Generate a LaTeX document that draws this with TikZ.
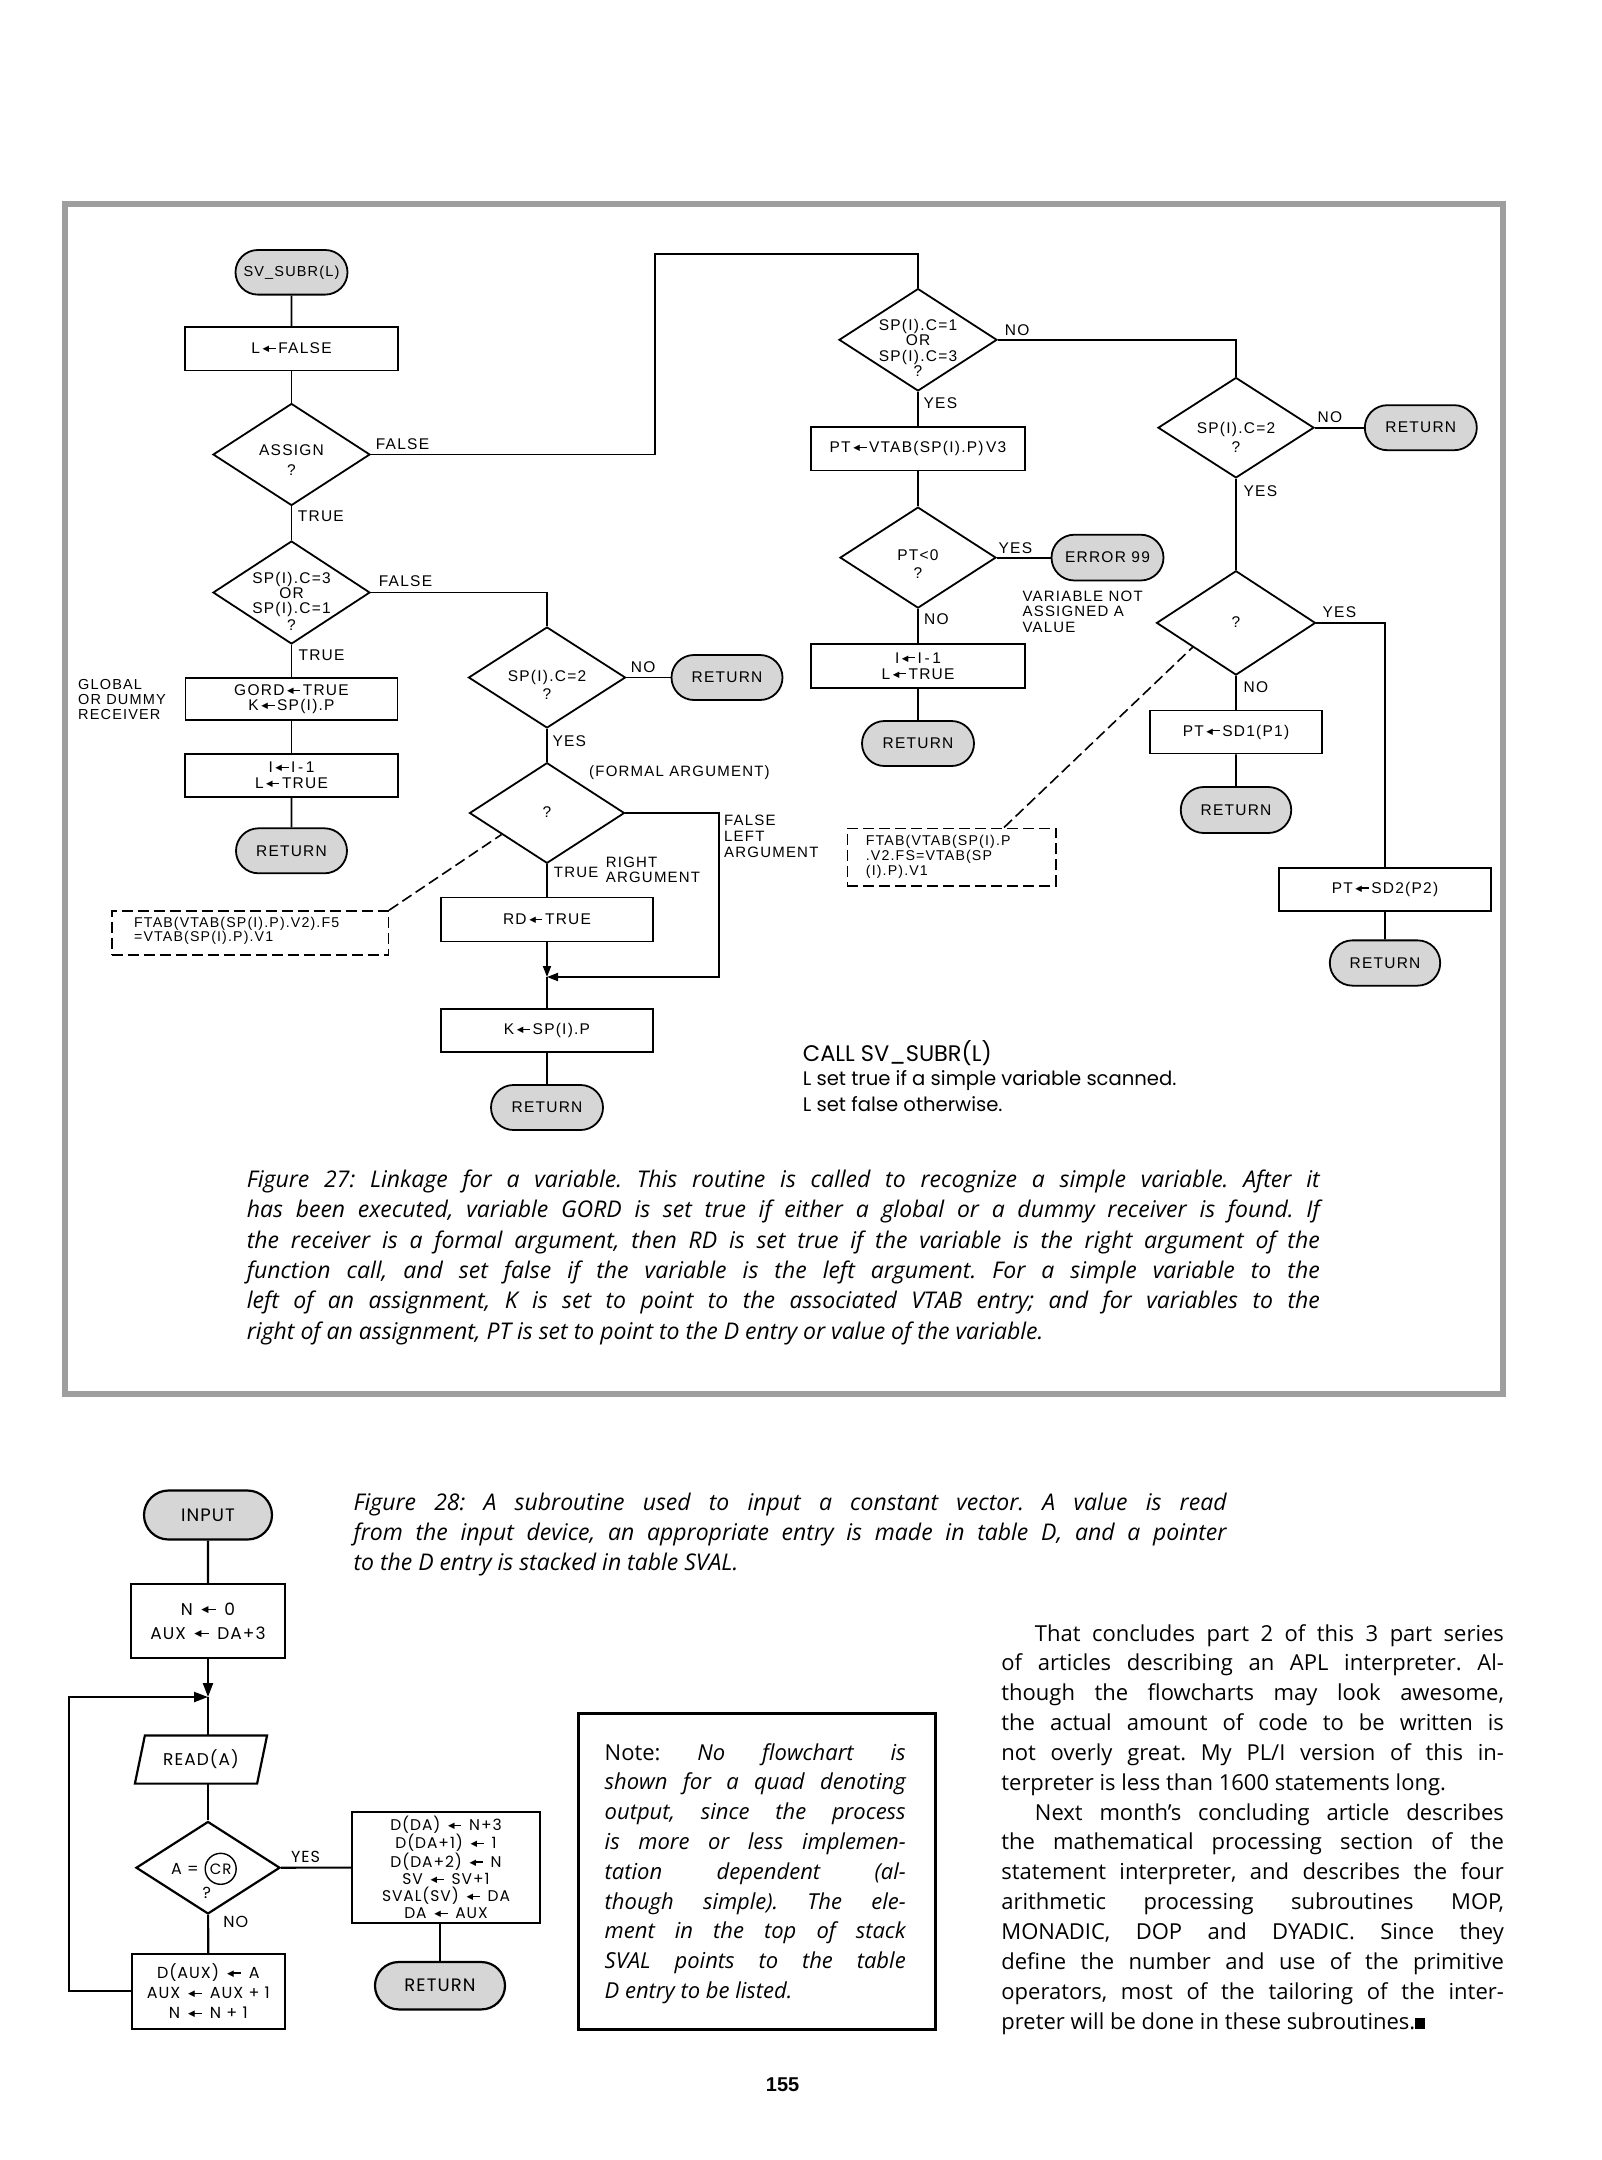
\documentclass[tikz,border=0pt]{standalone}
\usepackage{fontspec}
\usepackage{graphicx}
\setmainfont{Open Sans}
\newfontfamily\chartfont[LetterSpace=8]{Liberation Sans}
\newfontfamily\geofont[LetterSpace=6]{Poppins}
\newfontfamily\callfont{Poppins}
\newfontfamily\arrfont{DejaVu Sans}
\newfontfamily\numfont{Liberation Sans}
\usetikzlibrary{shapes.geometric,shapes.misc,arrows.meta,calc}
\definecolor{termgray}{RGB}{214,214,214}
\definecolor{framegray}{RGB}{158,158,158}
\newcommand{\lar}{\mbox{\raisebox{0.13em}{\scalebox{0.55}{\arrfont ◀}}\kern-0.12em\rule[0.3em]{0.55em}{0.085em}}}
\newcommand{\cfs}[2]{\chartfont\fontsize{#1}{#2}\selectfont}
\newcommand{\gfs}[2]{\geofont\fontsize{#1}{#2}\selectfont}
\tikzset{
  pbox/.style={draw, rectangle, inner sep=0pt, align=center},
  termnode/.style={draw, rounded rectangle, fill=termgray, inner sep=0pt, align=center},
  decision/.style={draw, diamond, inner sep=0pt},
  lbl/.style={inner sep=0pt, anchor=west, align=left},
  ctext/.style={inner sep=0pt, align=center},
  dbox/.style={draw, rectangle, inner sep=0pt, dash pattern=on 11pt off 5pt, line width=1.6pt},
  dline/.style={dash pattern=on 11pt off 5pt, line width=1.6pt},
  arr/.style={-{Triangle[length=11pt,width=8pt]}},
  arrb/.style={-{Triangle[length=14pt,width=10pt]}},
  captxt/.style={inner sep=0pt, anchor=base west, font=\itshape\fontsize{23}{30}\selectfont},
  bodytxt/.style={inner sep=0pt, anchor=base west, font=\fontsize{22}{30}\selectfont},
  notetxt/.style={inner sep=0pt, anchor=base west, font=\fontsize{22}{30}\selectfont},
}
\begin{document}
\frenchspacing
\begin{tikzpicture}[x=1pt, y=-1pt, line width=1.8pt]
\useasboundingbox (0,0) rectangle (1601,2160);
\fill[white] (0,0) rectangle (1601,2160);

% ---------------- Figure 27 frame
\node[draw=framegray, line width=6pt, minimum width=1438, minimum height=1190, inner sep=0pt] (frame27) at (784,799) {};

% ---------------- left column
\node[termnode, font=\cfs{14.5}{16}, minimum width=112, minimum height=44.6] (t1) at (291.5,272.3) {SV\_SUBR(L)};
\node[pbox, font=\cfs{15.5}{16}, minimum width=213, minimum height=43.6] (b1) at (291.5,348.6) {L\,\lar\,FALSE};
\node[decision, minimum width=157, minimum height=102] (d1) at (291.5,454.5) {};
\node[ctext, font=\cfs{15.5}{20}] (d1t) at (291.5,460) {ASSIGN\\?};
\node[decision, minimum width=157, minimum height=103] (d2) at (291.5,592.5) {};
\node[ctext, font=\cfs{15.5}{15}] (d2t) at (291.5,601) {SP(I).C=3\\OR\\SP(I).C=1\\[2pt]?};
\node[pbox, font=\cfs{15.5}{15}, minimum width=212, minimum height=42] (b2) at (291.5,699.3) {GORD\,\lar\,TRUE\\K\,\lar\,SP(I).P};
\node[pbox, font=\cfs{15.5}{16}, minimum width=212.6, minimum height=42.7] (b3) at (291.5,775.3) {I\,\lar\,I\,-\,1\\L\,\lar\,TRUE};
\node[termnode, font=\cfs{15.5}{16}, minimum width=111, minimum height=45] (t2) at (291.5,850.8) {RETURN};

\node[lbl, font=\cfs{15.5}{16}] (l1) at (375,444) {FALSE};
\node[lbl, font=\cfs{15.5}{16}] (l2) at (297,516.4) {TRUE};
\node[lbl, font=\cfs{15.5}{16}] (l3) at (378,581.4) {FALSE};
\node[lbl, font=\cfs{15.5}{16}] (l4) at (297.7,655.4) {TRUE};
\node[lbl, font=\cfs{14.5}{14.7}] (l5) at (77.3,699.5) {GLOBAL\\OR DUMMY\\RECEIVER};

\node[dbox, minimum width=276.6, minimum height=44] (dash1) at (250,933) {};
\node[lbl, font=\cfs{14.2}{14}] (dash1t) at (133.3,931.3) {FTAB(VTAB(SP(I).P).V2).F5\\=VTAB(SP(I).P).V1};

% ---------------- middle column
\node[decision, minimum width=157, minimum height=101] (d3) at (547,677.5) {};
\node[ctext, font=\cfs{15.5}{18.5}] (d3t) at (547,685) {SP(I).C=2\\?};
\node[termnode, font=\cfs{15.5}{16}, minimum width=111, minimum height=45] (t3) at (727,677.5) {RETURN};
\node[decision, minimum width=155, minimum height=100.6] (d8) at (547,813) {};
\node[ctext, font=\cfs{15.5}{16}] (d8t) at (547,811.7) {?};
\node[pbox, font=\cfs{15.5}{16}, minimum width=211.6, minimum height=44] (b4) at (547,919.5) {RD\,\lar\,TRUE};
\coordinate (j2) at (547,977);
\coordinate (c2) at (719,977);
\node[pbox, font=\cfs{15.5}{16}, minimum width=212, minimum height=43] (b5) at (547,1030.7) {K\,\lar\,SP(I).P};
\node[termnode, font=\cfs{15.5}{16}, minimum width=112, minimum height=45] (t4) at (547,1107.5) {RETURN};

\node[lbl, font=\cfs{15.5}{16}] (l6) at (630,667.3) {NO};
\node[lbl, font=\cfs{15.5}{16}] (l7) at (551.7,741) {YES};
\node[lbl, font=\cfs{15}{16}] (l8) at (588.3,772.7) {(FORMAL ARGUMENT)};
\node[lbl, font=\cfs{15}{16}] (l9) at (723.3,836) {FALSE\\LEFT\\ARGUMENT};
\node[lbl, font=\cfs{15}{16}] (l10) at (553,872.7) {TRUE};
\node[lbl, font=\cfs{15}{14.6}] (l11) at (605,870) {RIGHT\\ARGUMENT};

% ---------------- right-middle column
\node[decision, minimum width=158, minimum height=102.4] (d4) at (918,339.8) {};
\node[ctext, font=\cfs{15.5}{15.5}] (d4t) at (918,348) {SP(I).C=1\\OR\\SP(I).C=3\\?};
\node[pbox, font=\cfs{15.5}{16}, minimum width=214, minimum height=43.6] (b6) at (918,448.6) {PT\,\lar\,VTAB(SP(I).P)\,V3};
\node[decision, minimum width=156, minimum height=101] (d5) at (918,557.6) {};
\node[ctext, font=\cfs{15.5}{18}] (d5t) at (918,564) {PT<0\\?};
\node[termnode, font=\cfs{15.5}{16}, minimum width=112, minimum height=45.8] (t5) at (1107.5,557.6) {ERROR 99};
\node[pbox, font=\cfs{15.5}{16}, minimum width=214, minimum height=43.7] (b7) at (918,665.8) {I\,\lar\,I\,-\,1\\L\,\lar\,TRUE};
\node[termnode, font=\cfs{15.5}{16}, minimum width=112, minimum height=45] (t6) at (918,743.5) {RETURN};

\node[lbl, font=\cfs{15.5}{16}] (l12) at (1004,330.4) {NO};
\node[lbl, font=\cfs{15.5}{16}] (l13) at (922.7,403.6) {YES};
\node[lbl, font=\cfs{15.5}{16}] (l14) at (997.7,548.2) {YES};
\node[lbl, font=\cfs{15.5}{16}] (l15) at (923.3,619) {NO};
\node[lbl, font=\cfs{15}{15.2}] (l16) at (1021.7,611.8) {VARIABLE NOT\\ASSIGNED A\\VALUE};

\node[dbox, minimum width=208.4, minimum height=57.4] (dash2) at (951.5,857) {};
\node[lbl, font=\cfs{14.2}{15}] (dash2t) at (865,856.7) {FTAB(VTAB(SP(I).P\\.V2.FS=VTAB(SP\\(I).P).V1};

% ---------------- right column
\node[decision, minimum width=156, minimum height=100.4] (d6) at (1236,427.7) {};
\node[ctext, font=\cfs{15.5}{19}] (d6t) at (1236,437) {SP(I).C=2\\?};
\node[termnode, font=\cfs{15.5}{16}, minimum width=112, minimum height=45] (t7) at (1420.8,427.7) {RETURN};
\node[decision, minimum width=159, minimum height=104.3] (d7) at (1236,622.9) {};
\node[ctext, font=\cfs{15.5}{16}] (d7t) at (1236,622.5) {?};
\node[pbox, font=\cfs{15.5}{16}, minimum width=172, minimum height=43] (b8) at (1236,732) {PT\,\lar\,SD1(P1)};
\node[termnode, font=\cfs{15.5}{16}, minimum width=110.5, minimum height=46] (t8) at (1236,810) {RETURN};
\node[pbox, font=\cfs{15.5}{16}, minimum width=212, minimum height=42.8] (b9) at (1385,889.3) {PT\,\lar\,SD2(P2)};
\node[termnode, font=\cfs{15.5}{16}, minimum width=110.4, minimum height=45.3] (t9) at (1385,963) {RETURN};

\node[lbl, font=\cfs{15.5}{16}] (l17) at (1316.7,416.8) {NO};
\node[lbl, font=\cfs{15.5}{16}] (l18) at (1242.7,491) {YES};
\node[lbl, font=\cfs{15.5}{16}] (l19) at (1321.7,611.8) {YES};
\node[lbl, font=\cfs{15.5}{16}] (l20) at (1242.7,687.5) {NO};

\node[lbl, font=\callfont\fontsize{22.5}{26}\selectfont] (call1) at (802,1053.5) {CALL SV\_SUBR(L)};
\node[lbl, font=\callfont\fontsize{19.6}{22}\selectfont] (call2) at (802,1080.5) {L set true if a simple variable scanned.};
\node[lbl, font=\callfont\fontsize{19.6}{22}\selectfont] (call3) at (802,1104.5) {L set false otherwise.};

% ---------------- connectors figure 27
\coordinate (c1) at (655,253.6);
\draw (t1) -- (b1);
\draw (b1) -- (d1);
\draw (d1) -- (d2);
\draw (d2) -- (b2);
\draw (b2) -- (b3);
\draw (b3) -- (t2);
\draw (d1.east) -| (c1) -| (d4.north);
\draw (d2.east) -| (d3.north);
\draw (d3) -- (t3);
\draw (d3) -- (d8);
\draw (d8) -- (b4);
\draw[arr] (b4) -- (j2);
\draw[arr] (d8.east) -| (c2) -- (j2);
\draw (j2) -- (b5);
\draw (b5) -- (t4);
\draw[dline] (dash1.north east) -- ($(d8.west)!0.42!(d8.south)$);
\draw (d4) -- (b6);
\draw (b6) -- (d5);
\draw (d5) -- (t5);
\draw (d5) -- (b7);
\draw (b7) -- (t6);
\draw (d4.east) -| (d6.north);
\draw (d6) -- (t7);
\draw (d6) -- (d7);
\draw (d7.east) -| (b9.north);
\draw (d7) -- (b8);
\draw (b8) -- (t8);
\draw (b9) -- (t9);
\draw[dline] ($(dash2.north west)!0.75!(dash2.north east)$) -- ($(d7.west)!0.46!(d7.south)$);

% ---------------- caption 27
\foreach \t [count=\i from 0] in {
 {Figure 27: Linkage for a variable. This routine is called to recognize a simple variable. After it},
 {has been executed, variable GORD is set true if either a global or a dummy receiver is found. If},
 {the receiver is a formal argument, then RD is set true if the variable is the right argument of the},
 {function call, and set false if the variable is the left argument. For a simple variable to the},
 {left of an assignment, K is set to point to the associated VTAB entry; and for variables to the}}
 {\node[captxt] (capA\i) at (246,{1187.5+\i*30.3}) {\makebox[1073pt][s]{\t}};}
\node[captxt] (capA5) at (246,1339) {right of an assignment, PT is set to point to the D entry or value of the variable.};

% ---------------- Figure 28
\begin{scope}[line width=2.2pt]
\node[termnode, font=\gfs{18}{20}, minimum width=128, minimum height=49] (t10) at (208,1515) {INPUT};
\node[pbox, font=\gfs{17}{24}, minimum width=154, minimum height=74] (b10) at (208,1621) {N\enspace\lar\enspace 0\\AUX\enspace\lar\enspace DA+3};
\coordinate (j1) at (208,1697);
\coordinate (lp) at (69.3,1697);
\node[inner sep=0pt, minimum width=120, minimum height=46, font=\gfs{17}{20}] (p1) at (201,1759.5) {READ(A)};
\draw ([xshift=-5pt]p1.south west) -- ([xshift=5pt]p1.north west) -- ([xshift=5pt]p1.north east) -- ([xshift=-5pt]p1.south east) -- cycle;
\node[decision, minimum width=144, minimum height=92.5] (d10) at (208,1867.7) {};
\node[inner sep=0pt, font=\gfs{16}{18}] (d10a) at (185,1868.8) {A =};
\node[draw, circle, inner sep=0pt, minimum size=31, line width=1.4pt, font=\gfs{15}{18}] (cr) at (220.7,1868.8) {CR};
\node[inner sep=0pt, font=\gfs{16}{18}] (d10q) at (206.7,1893) {?};
\node[lbl, font=\gfs{16}{18}] (l21) at (290,1857) {YES};
\node[lbl, font=\gfs{16}{18}] (l22) at (222.3,1922) {NO};
\node[pbox, font=\gfs{16}{20.2}, minimum width=153, minimum height=74.6] (b11) at (208.3,1991.3) {D(AUX)\enspace\lar\enspace A\\AUX\enspace\lar\enspace AUX + 1\\N\enspace\lar\enspace N + 1};
\node[pbox, font=\gfs{15.5}{17.2}, minimum width=188, minimum height=111] (b12) at (446,1867.5) {D(DA)\enspace\lar\enspace N+3\\D(DA+1)\enspace\lar\enspace 1\\D(DA+2)\enspace\lar\enspace N\\SV\enspace\lar\enspace SV+1\\SVAL(SV)\enspace\lar\enspace DA\\DA\enspace\lar\enspace AUX};
\node[termnode, font=\gfs{18}{20}, minimum width=130, minimum height=47.4] (t11) at (440,1985.7) {RETURN};

\draw (t10) -- (b10);
\draw[arrb] (b10) -- (j1);
\draw[arrb] (b11.west) -| (lp) -- (j1);
\draw (j1) -- (j1 |- p1.north);
\draw (d10.north |- p1.south) -- (d10.north);
\draw (d10) -- (b11);
\draw (d10) -- (b12);
\draw (t11.north |- b12.south) -- (t11.north);
\end{scope}

% ---------------- caption 28
\node[captxt] (capB0) at (352.7,1510) {\makebox[873pt][s]{Figure 28: A subroutine used to input a constant vector. A value is read}};
\node[captxt] (capB1) at (352.7,1540.5) {\makebox[873pt][s]{from the input device, an appropriate entry is made in table D, and a pointer}};
\node[captxt] (capB2) at (352.7,1570.5) {to the D entry is stacked in table SVAL.};

% ---------------- note box
\node[draw, line width=2.4pt, minimum width=357, minimum height=316, inner sep=0pt] (notebox) at (756.9,1871.3) {};
\node[notetxt] (note0) at (603.8,1760) {\makebox[301pt][s]{Note: \itshape No flowchart is}};
\foreach \t [count=\i from 1] in {
 {shown for a quad denoting},
 {output, since the process},
 {is more or less implemen-},
 {tation dependent (al-},
 {though simple). The ele-},
 {ment in the top of stack},
 {SVAL points to the table}}
 {\node[notetxt] (note\i) at (603.8,{1760+\i*29.8}) {\itshape\makebox[301pt][s]{\t}};}
\node[notetxt] (note8) at (603.8,1998.4) {\itshape D entry to be listed.};

% ---------------- body text
\node[bodytxt] (body0) at (1034,1641) {\makebox[469pt][s]{That concludes part 2 of this 3 part series}};
\foreach \t [count=\i from 1] in {
 {of articles describing an APL interpreter. Al-},
 {though the flowcharts may look awesome,},
 {the actual amount of code to be written is},
 {not overly great. My PL/I version of this in-}}
 {\node[bodytxt] (body\i) at (1000.5,{1641+\i*29.85}) {\makebox[502.5pt][s]{\t}};}
\node[bodytxt] (body5) at (1000.5,1790.25) {terpreter is less than 1600 statements long.};
\node[bodytxt] (body6) at (1034,1820.1) {\makebox[469pt][s]{Next month’s concluding article describes}};
\foreach \t [count=\i from 7] in {
 {the mathematical processing section of the},
 {statement interpreter, and describes the four},
 {arithmetic processing subroutines MOP,},
 {MONADIC, DOP and DYADIC. Since they},
 {define the number and use of the primitive},
 {operators, most of the tailoring of the inter-}}
 {\node[bodytxt] (body\i) at (1000.5,{1641+\i*29.85}) {\makebox[502.5pt][s]{\t}};}
\node[bodytxt] (body13) at (1000.5,2029.05) {preter will be done in these subroutines.\rule{10pt}{11pt}};

\node[inner sep=0pt, font=\numfont\bfseries\fontsize{20}{22}\selectfont] (pnum) at (782.6,2084.7) {155};
\end{tikzpicture}
\end{document}
